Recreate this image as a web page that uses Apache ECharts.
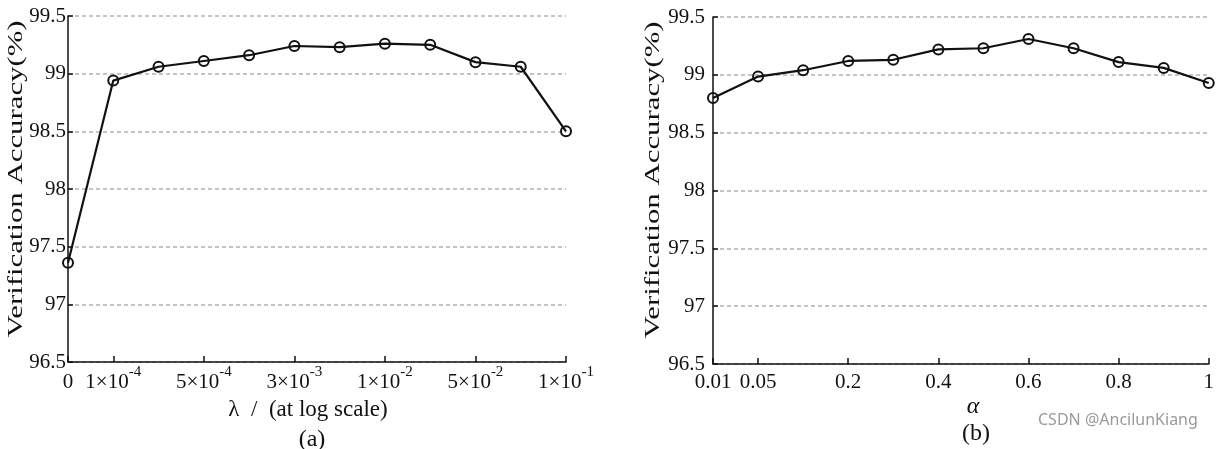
<!DOCTYPE html>
<html>
<head>
<meta charset="utf-8">
<script src="https://cdn.jsdelivr.net/npm/echarts@6/dist/echarts.min.js"></script>
<style>
html,body{margin:0;padding:0;background:#fff;}
#chart{width:1217px;height:449px;}
</style>
</head>
<body>
<div id="chart"></div>
<script>
// ---- data ----
const lambdaTickLabels = ['0','1×10^-4','','5×10^-4','','3×10^-3','','1×10^-2','','5×10^-2','','1×10^-1'];
const lambdaAccuracy = [97.36, 98.94, 99.06, 99.11, 99.16, 99.24, 99.23, 99.26, 99.25, 99.10, 99.06, 98.50];
const alphaValues = ['0.01','0.05','0.1','0.2','0.3','0.4','0.5','0.6','0.7','0.8','0.9','1'];
const alphaTickLabels = ['0.01','0.05','','0.2','','0.4','','0.6','','0.8','','1'];
const alphaAccuracy = [98.80, 98.985, 99.04, 99.12, 99.13, 99.22, 99.23, 99.31, 99.23, 99.11, 99.06, 98.93];
const yTitle = 'Verification Accuracy(%)';

const SERIF = '"Liberation Serif", "Times New Roman", serif';
const INK = '#111';

function supFmt(s) {
  if (!s) return '';
  const i = s.indexOf('^');
  if (i < 0) return '{n|' + s + '}';
  return '{n|' + s.slice(0, i) + '}{s|' + s.slice(i + 1) + '}';
}

function yAxisCfg(gridIndex, margin) {
  return {
    type: 'value', gridIndex: gridIndex, min: 96.5, max: 99.5, interval: 0.5,
    axisLine: { show: true, lineStyle: { color: INK, width: 1.5 } },
    axisTick: { show: true, inside: true, length: 5, lineStyle: { color: INK, width: 1.5 } },
    axisLabel: { color: INK, fontFamily: SERIF, fontSize: 21, margin: margin },
    splitLine: { show: true, lineStyle: { color: '#c4c4c4', width: 2, type: [4, 3] } }
  };
}

function xAxisCfg(gridIndex, cats, labels, margin) {
  const showIdx = (idx) => labels[idx] !== '';
  return {
    type: 'category', gridIndex: gridIndex, data: cats, boundaryGap: false,
    axisLine: { show: true, lineStyle: { color: INK, width: 1.5 } },
    axisTick: { show: true, inside: true, length: 6, interval: showIdx, lineStyle: { color: INK, width: 1.5 } },
    axisLabel: {
      interval: showIdx, margin: margin, color: INK, fontFamily: SERIF, fontSize: 21,
      formatter: (v, idx) => supFmt(labels[idx]),
      rich: {
        n: { fontFamily: SERIF, fontSize: 21, color: INK, verticalAlign: 'bottom', lineHeight: 28 },
        s: { fontFamily: SERIF, fontSize: 15, color: INK, verticalAlign: 'top', lineHeight: 28 }
      }
    },
    splitLine: { show: false }
  };
}

function seriesCfg(idx, data) {
  return {
    type: 'line', xAxisIndex: idx, yAxisIndex: idx, data: data,
    symbol: 'circle', symbolSize: 10,
    lineStyle: { color: '#111', width: 2.2 },
    itemStyle: { color: 'rgba(255,255,255,0)', borderColor: '#111', borderWidth: 2 },
    emphasis: { disabled: true },
    z: 5
  };
}

const chart = echarts.init(document.getElementById('chart'), null, { renderer: 'canvas' });
chart.setOption({
  animation: false,
  backgroundColor: '#fff',
  grid: [
    { left: 68, top: 16, width: 498, height: 346 },
    { left: 713, top: 17, width: 497, height: 347 }
  ],
  xAxis: [
    xAxisCfg(0, lambdaTickLabels.map((_, i) => 'λ' + i), lambdaTickLabels, 3),
    xAxisCfg(1, alphaValues, alphaTickLabels, 1)
  ],
  yAxis: [yAxisCfg(0, 2), yAxisCfg(1, 8)],
  series: [seriesCfg(0, lambdaAccuracy), seriesCfg(1, alphaAccuracy)],
  graphic: [
    { type: 'text', x: 16, y: 179, rotation: Math.PI / 2, scaleX: 1.4,
      style: { text: yTitle, font: '22px ' + SERIF, fill: INK, align: 'center', verticalAlign: 'middle' } },
    { type: 'text', x: 653, y: 180, rotation: Math.PI / 2, scaleX: 1.4,
      style: { text: yTitle, font: '22px ' + SERIF, fill: INK, align: 'center', verticalAlign: 'middle' } },
    { type: 'text', x: 308, y: 410,
      style: { text: 'λ  /  (at log scale)', font: '23px ' + SERIF, fill: INK, align: 'center', verticalAlign: 'middle' } },
    { type: 'text', x: 312, y: 440,
      style: { text: '(a)', font: '24px ' + SERIF, fill: INK, align: 'center', verticalAlign: 'middle' } },
    { type: 'text', x: 973, y: 407,
      style: { text: 'α', font: 'italic 24px ' + SERIF, fill: INK, align: 'center', verticalAlign: 'middle' } },
    { type: 'text', x: 976, y: 434,
      style: { text: '(b)', font: '24px ' + SERIF, fill: INK, align: 'center', verticalAlign: 'middle' } },
    { type: 'text', x: 1038, y: 420,
      style: { text: 'CSDN @AncilunKiang', font: '16px "Noto Sans", sans-serif', fill: '#9a9a9a', align: 'left', verticalAlign: 'middle' } }
  ]
});
</script>
</body>
</html>
